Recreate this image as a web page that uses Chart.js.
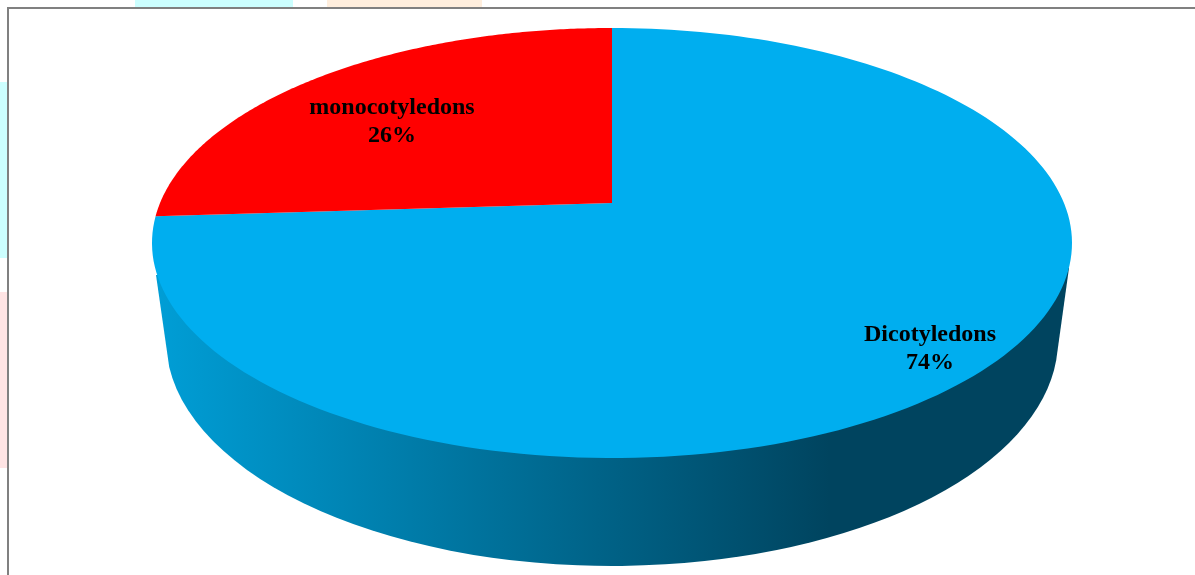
<!DOCTYPE html>
<html>
<head>
<meta charset="utf-8">
<style>
  html, body { margin: 0; padding: 0; background: #fff; overflow: hidden; }
  #page { position: relative; width: 1195px; height: 575px; }
  /* pale blocks of the slide behind the chart frame */
  .strip { position: absolute; }
  #frame { position: absolute; left: 7px; top: 7px; width: 1188px; height: 568px; background: #fff;
           border-left: 2px solid #808080; border-top: 2px solid #808080; box-sizing: border-box; }
  #chartPie { position: absolute; left: 0; top: 0; }
</style>
<script src="https://cdn.jsdelivr.net/npm/chart.js@4/dist/chart.umd.min.js"></script>
</head>
<body>
<div id="page">
  <div class="strip" style="left:135px;top:0;width:158px;height:7px;background:#ccffff"></div>
  <div class="strip" style="left:327px;top:0;width:155px;height:7px;background:#ffeedd"></div>
  <div class="strip" style="left:0;top:82px;width:7px;height:176px;background:#ccffff"></div>
  <div class="strip" style="left:0;top:292px;width:7px;height:176px;background:#ffe4e4"></div>
  <div id="frame"></div>
  <canvas id="chartPie" width="1195" height="575"></canvas>
</div>
<script>
const labels = ["Dicotyledons", "monocotyledons"];
const values = [74, 26];
const sliceColors = ["#00AEEF", "#FF0000"];

// where the two text blocks sit, centre x / middle of first line
const labelX = [930, 392];
const labelY = [333, 106];

// tilted disc: y of far rim, slice hub, near rim; half width of the rim
const disc = { cx: 612, far: 28, hub: 203, near: 458, halfWidth: 460 };
const k = (2 * disc.hub - disc.far - disc.near) / (disc.near - disc.far);
const a = disc.near * (1 + k) - disc.hub;
const widthFactor = disc.halfWidth * Math.sqrt(1 - k * k);

// circle coords (-1..1) to screen, so the hub lands off the ellipse centre like in a perspective view
function project(u, v) {
  const w = 1 + k * v;
  return { x: disc.cx + widthFactor * u / w, y: (a * v + disc.hub) / w };
}

// stock arcs are flat circles, draw them on the tilted disc instead
Chart.ArcElement.prototype.draw = function (ctx) {
  const steps = 180;
  const hub = project(0, 0);
  ctx.save();
  ctx.fillStyle = this.options.backgroundColor;
  ctx.beginPath();
  ctx.moveTo(hub.x, hub.y);
  for (let i = 0; i <= steps; i++) {
    const t = this.startAngle + (this.endAngle - this.startAngle) * i / steps;
    const p = project(Math.cos(t), Math.sin(t));
    ctx.lineTo(p.x, p.y);
  }
  ctx.closePath();
  ctx.fill();
  ctx.restore();
};

// side wall of the disc, sits under the slices
const wallPlugin = {
  id: "wall",
  beforeDatasetsDraw(chart) {
    const ctx = chart.ctx;
    const grad = ctx.createLinearGradient(155, 0, 830, 0);
    grad.addColorStop(0, "#009ED6");
    grad.addColorStop(1, "#00445F");
    ctx.save();
    ctx.fillStyle = grad;
    ctx.beginPath();
    ctx.moveTo(156, 275);
    ctx.ellipse(612, 340, 446, 226, 0, Math.PI - 0.12, 0.09, true);
    ctx.lineTo(1069, 268);
    ctx.closePath();
    ctx.fill();
    ctx.restore();
  }
};

const labelPlugin = {
  id: "sliceLabels",
  afterDatasetsDraw(chart) {
    const ctx = chart.ctx;
    ctx.save();
    ctx.fillStyle = "#000";
    ctx.font = "bold 24px 'Liberation Serif'";
    ctx.textAlign = "center";
    ctx.textBaseline = "middle";
    labels.forEach((label, i) => {
      ctx.fillText(label, labelX[i], labelY[i] + 2);
      ctx.fillText(values[i] + "%", labelX[i], labelY[i] + 30);
    });
    ctx.restore();
  }
};

new Chart(document.getElementById("chartPie"), {
  type: "pie",
  data: {
    labels: labels,
    datasets: [{ data: values, backgroundColor: sliceColors, borderWidth: 0 }]
  },
  options: {
    responsive: false,
    animation: false,
    plugins: { legend: { display: false }, tooltip: { enabled: false } }
  },
  plugins: [wallPlugin, labelPlugin]
});
</script>
</body>
</html>
